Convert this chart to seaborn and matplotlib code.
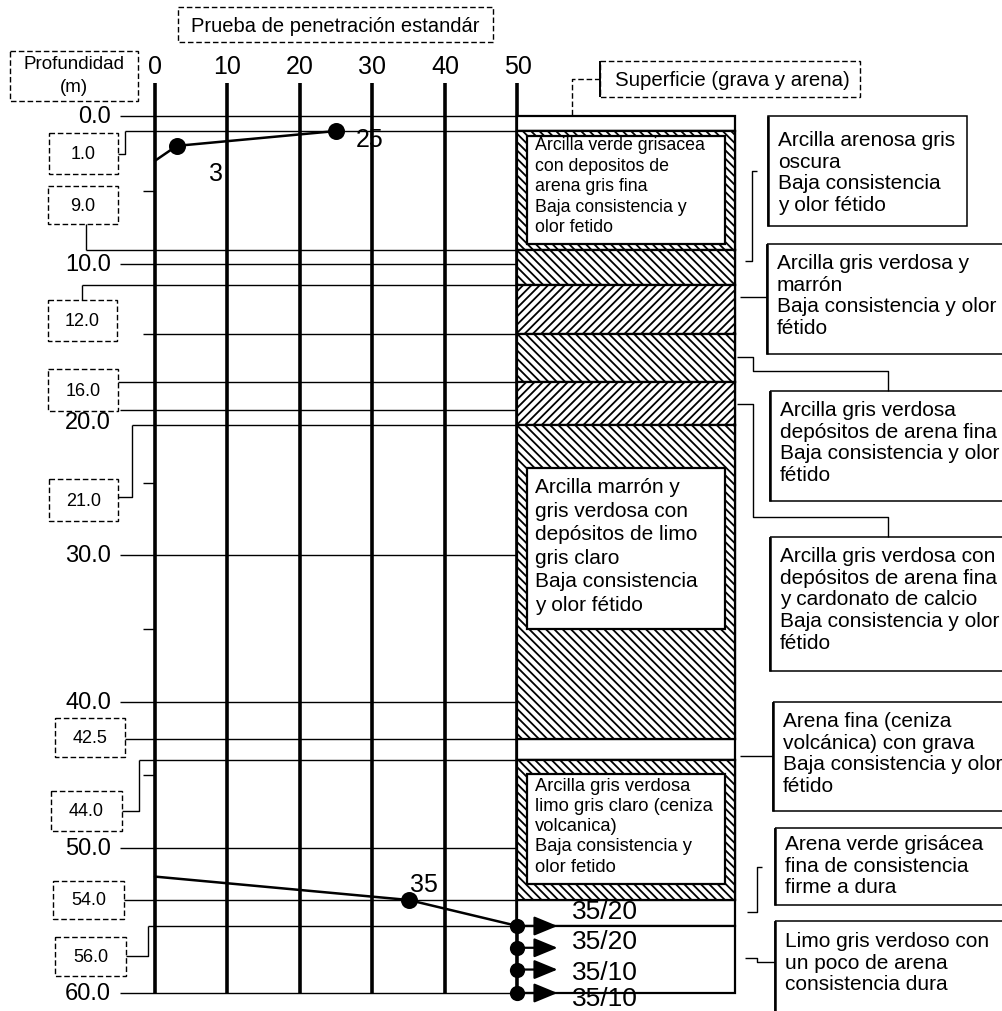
import numpy as np
import pandas as pd
import matplotlib
matplotlib.use("Agg")
import matplotlib.pyplot as plt
from matplotlib.patches import Rectangle
import seaborn as sns

sns.set_theme(style="white")
plt.rcParams["font.family"] = ["Liberation Sans", "DejaVu Sans"]
plt.rcParams["hatch.linewidth"] = 1.3
plt.rcParams["hatch.color"] = "black"

# ------------------------------------------------------------------ data
spt_ticks = [0, 10, 20, 30, 40, 50]
depth_ticks = [0, 10, 20, 30, 40, 50, 60]
depth_minor = [5, 25, 35, 45]

# standard penetration test, upper readings (depth m, blows)
spt_top_depth = [1.0, 2.0, 3.0]
spt_top_blows = [25, 3, 0]

# lower readings
spt_low_depth = [52.2, 54.0, 56.0, 57.3, 58.6, 60.0]
spt_low_blows = [0, 35, 50, 50, 50, 50]

# refusal readings at the bottom of the hole
refusal_depth = [56.0, 57.3, 58.6, 60.0]
refusal_blows = [50, 50, 50, 50]
refusal_labels = ["35/20", "35/20", "35/10", "35/10"]

# stratigraphic column
layer_top = [0.0, 1.0, 9.0, 12.0, 14.0, 16.0, 21.0, 42.5, 44.0, 54.0, 56.0]
layer_bottom = [1.0, 9.0, 12.0, 14.0, 16.0, 21.0, 42.5, 44.0, 54.0, 56.0, 60.0]
layer_hatch = ["", "\\\\\\\\", "\\\\\\\\", "////", "\\\\\\\\", "////",
               "\\\\\\\\", "", "\\\\\\\\", "", ""]

# description panels inside the column
inner_top = [1.35, 24.0, 44.9]
inner_bottom = [8.6, 35.0, 52.8]
inner_text = [
    "Arcilla verde grisacea\ncon depositos de\narena gris fina\nBaja consistencia y\nolor fetido",
    "Arcilla marrón y\ngris verdosa con\ndepósitos de limo\ngris claro\nBaja consistencia\ny olor fétido",
    "Arcilla gris verdosa\nlimo gris claro (ceniza\nvolcanica)\nBaja consistencia y\nolor fetido",
]

# boundary depths called out on the left
marked_depths = [1.0, 9.0, 12.0, 16.0, 21.0, 42.5, 44.0, 54.0, 56.0]
unmarked_depths = [14.0]

side_text = [
    "Arcilla arenosa gris\noscura\nBaja consistencia\ny olor fétido",
    "Arcilla gris verdosa y\nmarrón\nBaja consistencia y olor\nfétido",
    "Arcilla gris verdosa\ndepósitos de arena fina\nBaja consistencia y olor\nfétido",
    "Arcilla gris verdosa con\ndepósitos de arena fina\ny cardonato de calcio\nBaja consistencia y olor\nfétido",
    "Arena fina (ceniza\nvolcánica) con grava\nBaja consistencia y olor\nfétido",
    "Arena verde grisácea\nfina de consistencia\nfirme a dura",
    "Limo gris verdoso con\nun poco de arena\nconsistencia dura",
]

# ------------------------------------------------------------------ layout
W, H = 1003, 1012
X0_PX, PX_PER_BLOW = 155.0, 7.25
COL_LEFT, COL_RIGHT = 50, 80

# schematic depth scale: depth (m) -> vertical position from top (px)
ANCHOR_DEPTH = [-20, 0, 1, 9, 10, 12, 16, 20, 21, 30, 40, 50, 54, 56, 60, 80]
ANCHOR_PX = [-175, 117, 132, 251, 265, 286, 383, 411, 426, 556, 703, 849, 901, 927, 994, 1286]


def depth_to_px(d):
    return np.interp(d, ANCHOR_DEPTH, ANCHOR_PX)


def px_to_depth(p):
    return np.interp(p, ANCHOR_PX, ANCHOR_DEPTH)


def sx(px):
    return (px - X0_PX) / PX_PER_BLOW


sd = px_to_depth

fig = plt.figure(figsize=(W / 100, H / 100), dpi=100)
ax = fig.add_axes([0, 0, 1, 1])
ax.set_yscale("function", functions=(depth_to_px, px_to_depth))
ax.set_xlim(sx(0), sx(W))
ax.set_ylim(sd(H), sd(0))
ax.set_axis_off()

K = "black"
DASH = (0, (4, 2))


def line(pts, **kw):
    xs = [sx(p[0]) for p in pts]
    ys = [sd(p[1]) for p in pts]
    ax.plot(xs, ys, color=K, lw=kw.pop("lw", 1.0), solid_capstyle="butt", **kw)


def box(x0, y0, x1, y1, ls="-", lw=1.1, left_lw=None):
    ax.add_patch(Rectangle((sx(x0), sd(y0)), sx(x1) - sx(x0), sd(y1) - sd(y0),
                           fill=False, ec=K, lw=lw, ls=ls, zorder=3))
    if left_lw:
        line([(x0, y0), (x0, y1)], lw=left_lw, zorder=3)


# ---- grid: blow-count verticals and depth lines
ax.vlines(spt_ticks, sd(84), 60, color=K, lw=2.6, zorder=2)
ax.hlines(depth_ticks, sx(120), COL_LEFT, color=K, lw=1.0, zorder=2)
ax.hlines(depth_minor, sx(143), 0, color=K, lw=1.0, zorder=2)
ax.hlines(unmarked_depths, sx(143), COL_LEFT, color=K, lw=1.0, zorder=2)

for t in spt_ticks:
    ax.text(t, sd(67), str(t), ha="center", va="center", fontsize=18, color=K)

tick_label_nudge = {20: -12}
for d in depth_ticks:
    ax.annotate(f"{d:.1f}", xy=(sx(111), d), xytext=(0, tick_label_nudge.get(d, 0)),
                textcoords="offset pixels", ha="right", va="center", fontsize=17, color=K)

# ---- depth call-outs: box (px), attach point (px), leader x (px)
callout_boxes = [(49, 134, 118, 175), (48, 187, 118, 225), (48, 301, 117, 342),
                 (48, 370, 118, 412), (49, 480, 118, 522), (55, 719, 125, 758),
                 (51, 792, 122, 832), (53, 882, 124, 920), (55, 938, 126, 977)]
callout_attach = [(118, 155), (86, 225), (82, 301), (118, None), (118, 498),
                  (125, None), (122, 812), (124, None), (126, 957)]
callout_leader_x = [125, 86, 82, 118, 132, 125, 139, 124, 148]

for d, bx, at, lx in zip(marked_depths, callout_boxes, callout_attach, callout_leader_x):
    box(*bx, ls=DASH, lw=1.0)
    ax.text(sx((bx[0] + bx[2]) / 2), sd((bx[1] + bx[3]) / 2), f"{d:.1f}",
            ha="center", va="center", fontsize=13, color=K)
    dpx = depth_to_px(d)
    ay = dpx if at[1] is None else at[1]
    line([(at[0], ay), (lx, ay), (lx, dpx)], lw=1.0)
    ax.hlines(d, sx(lx), COL_LEFT, color=K, lw=1.0, zorder=2)

# ---- header boxes
box(10, 52, 138, 102, ls=DASH, lw=1.0)
ax.text(sx(74), sd(64), "Profundidad", ha="center", va="center", fontsize=13.5, color=K)
ax.text(sx(74), sd(87), "(m)", ha="center", va="center", fontsize=13.5, color=K)
box(178, 8, 493, 43, ls=DASH, lw=1.0)
ax.text(sx(335), sd(26), "Prueba de penetración estandár", ha="center", va="center",
        fontsize=14.5, color=K)

# ---- stratigraphic column
ax.bar(x=(COL_LEFT + COL_RIGHT) / 2, height=np.subtract(layer_bottom, layer_top),
       bottom=layer_top, width=COL_RIGHT - COL_LEFT, color="white", edgecolor=K,
       linewidth=1.6, zorder=3)
for t, b, h in zip(layer_top, layer_bottom, layer_hatch):
    if h:
        ax.bar(x=(COL_LEFT + COL_RIGHT) / 2, height=b - t, bottom=t,
               width=COL_RIGHT - COL_LEFT, color="white", edgecolor=K,
               hatch=h, linewidth=1.6, zorder=3)
ax.bar(x=(sx(527) + sx(725)) / 2, height=np.subtract(inner_bottom, inner_top),
       bottom=inner_top, width=sx(725) - sx(527), color="white", edgecolor=K,
       linewidth=1.6, zorder=4)
inner_style = [(12.8, 1.27, 0), (15, 1.3, 9), (13.2, 1.25, 3)]
for t, txt, (fs, ls, dy) in zip(inner_top, inner_text, inner_style):
    ax.text(sx(535), sd(depth_to_px(t) + dy), txt, ha="left", va="top", fontsize=fs,
            linespacing=ls, color=K, zorder=5)

# ---- standard penetration readings
top_df = pd.DataFrame({"blows": spt_top_blows, "depth": spt_top_depth})
low_df = pd.DataFrame({"blows": spt_low_blows, "depth": spt_low_depth})
for df in (top_df, low_df):
    sns.lineplot(data=df, x="blows", y="depth", sort=False, estimator=None,
                 color=K, linewidth=1.8, ax=ax, zorder=6)
sns.scatterplot(x=spt_top_blows[:2], y=spt_top_depth[:2], s=150, color=K,
                linewidth=0, ax=ax, zorder=7)
sns.scatterplot(x=spt_low_blows[1:2], y=spt_low_depth[1:2], s=150, color=K,
                linewidth=0, ax=ax, zorder=7)
sns.scatterplot(x=refusal_blows, y=refusal_depth, s=120, color=K,
                linewidth=0, ax=ax, zorder=7)

value_offsets = {(25, 1.0): (20, -8), (3, 2.0): (32, -27), (35, 54.0): (1, 16)}
for (v, d), off in value_offsets.items():
    ax.annotate(str(v), xy=(v, d), xytext=off, textcoords="offset pixels",
                ha="left", va="center", fontsize=18, color=K, zorder=8)

label_dy = [15, 7, -2, -5]
for v, d, lab, dy in zip(refusal_blows, refusal_depth, refusal_labels, label_dy):
    ax.annotate("", xy=(v + sx(563) - sx(523), d), xytext=(v, d),
                arrowprops=dict(arrowstyle="-|>,head_length=0.85,head_width=0.35",
                                color=K, lw=1.6, mutation_scale=17,
                                shrinkA=0, shrinkB=0), zorder=8)
    ax.annotate(lab, xy=(sx(572), d), xytext=(0, dy), textcoords="offset pixels",
                ha="left", va="center", fontsize=19, color=K, zorder=8)

# ---- side descriptions and their leaders
box(600, 62, 860, 98, ls=DASH, lw=1.0, left_lw=1.4)
ax.text(sx(732), sd(80), "Superficie (grava y arena)", ha="center", va="center",
        fontsize=14.7, color=K)
line([(600, 80), (572, 80), (572, depth_to_px(0))], lw=1.0, ls=DASH)

side_boxes = [(768, 117, 967, 227), (767, 245, 1010, 355), (770, 392, 1010, 502),
              (770, 538, 1010, 672), (773, 703, 1010, 812), (775, 829, 1010, 906),
              (775, 922, 1010, 1030)]
side_text_dy = [14, 9, 9, 9, 9, 6, 10]
side_leaders = [
    [(745, 262), (752, 262), (752, 172), (757, 172)],
    [(740, 298), (767, 298)],
    [(737, 358), (753, 358), (753, 372), (888, 372), (888, 392)],
    [(737, 405), (753, 405), (753, 518), (888, 518), (888, 538)],
    [(740, 757), (773, 757)],
    [(747, 913), (757, 913), (757, 868), (762, 868)],
    [(745, 959), (757, 959), (757, 963), (775, 963)],
]
for txt, bx, dy, ld in zip(side_text, side_boxes, side_text_dy, side_leaders):
    box(*bx, lw=1.1, left_lw=1.8)
    ax.text(sx(bx[0] + 10), sd(bx[1] + dy), txt, ha="left", va="top", fontsize=15,
            linespacing=1.18, color=K, zorder=5)
    line(ld, lw=1.0)

fig.savefig("out.png", dpi=100, facecolor="white")
